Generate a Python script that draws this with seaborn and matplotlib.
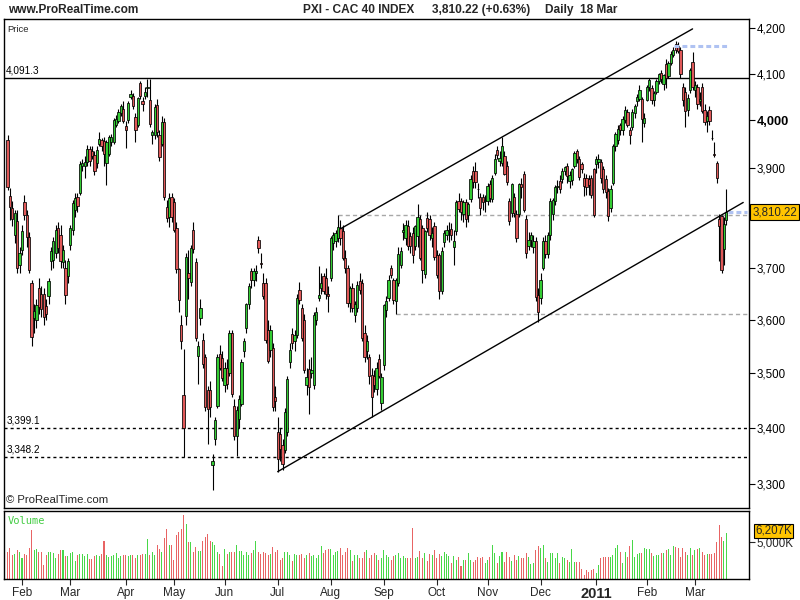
import numpy as np
import pandas as pd
import matplotlib
matplotlib.use("Agg")
import matplotlib.pyplot as plt
import matplotlib.transforms as mtrans
from matplotlib.ticker import FixedLocator, NullLocator
import seaborn as sns

sns.set_theme(style="white")
plt.rcParams['font.family'] = ['Liberation Sans', 'DejaVu Sans']

# ---------------- data ----------------
holidays = ['2010-04-02', '2010-04-05']
first_day, last_day = '2010-01-22', '2011-03-18'

opens = [
 3958, 3843, 3818, 3765, 3792, 3706,
 3735, 3830, 3805, 3760, 3670, 3604, 3600, 3660, 3650, 3650, 3626, 3646, 3713, 3715, 3730, 3778, 3765, 3712, 3700, 3684,
 3745, 3775, 3815, 3842, 3850, 3905, 3905, 3912, 3940, 3935, 3928, 3910, 3950, 3958, 3957, 3910, 3930, 3955, 3955, 3990, 3998, 4015, 4025,
 3988, 4001, 4050, 4052, 4007, 3990, 4079, 4042, 4052, 4068, 4043, 3968, 3970, 4033, 3969, 3950, 3997, 3820, 3800, 3842,
 3830, 3778, 3697, 3590, 3460, 3606, 3690, 3672, 3775, 3712, 3531, 3604, 3562, 3529, 3468, 3469, 3333, 3380, 3440, 3535, 3528,
 3478, 3510, 3500, 3575, 3440, 3385, 3415, 3443, 3541, 3585, 3629, 3693, 3676, 3690, 3754, 3710, 3670, 3670, 3581, 3543, 3547, 3455,
 3392, 3388, 3370, 3360, 3392, 3520, 3572, 3560, 3570, 3657, 3623, 3600, 3478, 3507, 3500, 3478, 3600, 3642, 3660, 3684, 3680, 3650,
 3680, 3748, 3752, 3758, 3778, 3772, 3720, 3700, 3632, 3661, 3608, 3623, 3675, 3670, 3575, 3541, 3529, 3497, 3495, 3470, 3525, 3445,
 3514, 3618, 3642, 3699, 3676, 3636, 3670, 3705, 3770, 3758, 3783, 3762, 3768, 3742, 3762, 3797, 3778, 3688, 3799, 3797, 3758, 3782,
 3725, 3725, 3655, 3750, 3764, 3772, 3776, 3741, 3772, 3833, 3833, 3807, 3830, 3805, 3837, 3894, 3895, 3858, 3841, 3841, 3832,
 3832, 3867, 3837, 3890, 3938, 3915, 3910, 3925, 3904, 3833, 3808, 3841, 3807, 3807, 3868, 3888, 3797, 3742, 3755, 3740, 3752, 3648,
 3642, 3700, 3752, 3728, 3764, 3807, 3833, 3861, 3873, 3877, 3894, 3904, 3873, 3875, 3904, 3935, 3918, 3908, 3880, 3880, 3878, 3880, 3898,
 3908, 3912, 3913, 3898, 3877, 3853, 3818, 3870, 3947, 3958, 3990, 3979, 4001, 4018, 3980, 3985, 4015, 4040, 4045, 4045, 3995,
 4043, 4070, 4068, 4043, 4060, 4083, 4102, 4078, 4120, 4095, 4122, 4140, 4165, 4160, 4151, 4070, 4060, 4022, 4065, 4125,
 4065, 4070, 4042, 4070, 4022, 3998, 4022, 3963, 3930, 3910, 3797, 3803, 3736, 3795,
]
highs = [
 3968, 3860, 3832, 3815, 3815, 3740,
 3785, 3845, 3815, 3770, 3676, 3630, 3640, 3680, 3665, 3660, 3640, 3680, 3740, 3760, 3785, 3790, 3785, 3745, 3715, 3720,
 3785, 3835, 3850, 3850, 3915, 3920, 3925, 3948, 3945, 3945, 3935, 3945, 3975, 3962, 3965, 3958, 3970, 3972, 4005, 4012, 4025, 4035, 4040,
 3998, 4040, 4065, 4058, 4015, 4050, 4085, 4050, 4070, 4088, 4088, 3980, 4035, 4045, 3980, 4010, 4005, 3835, 3850, 3850,
 3840, 3790, 3700, 3608, 3545, 3730, 3735, 3745, 3790, 3720, 3560, 3640, 3575, 3535, 3475, 3485, 3353, 3420, 3535, 3552, 3540,
 3520, 3525, 3580, 3580, 3452, 3440, 3460, 3525, 3565, 3632, 3670, 3700, 3700, 3705, 3762, 3730, 3690, 3680, 3600, 3590, 3555, 3475,
 3420, 3400, 3380, 3435, 3495, 3555, 3585, 3580, 3650, 3672, 3630, 3610, 3510, 3525, 3530, 3615, 3625, 3703, 3690, 3690, 3700, 3665,
 3762, 3770, 3775, 3805, 3795, 3785, 3735, 3705, 3665, 3670, 3635, 3675, 3690, 3678, 3590, 3570, 3535, 3510, 3505, 3520, 3535, 3500,
 3630, 3645, 3685, 3705, 3680, 3680, 3740, 3740, 3788, 3795, 3795, 3770, 3780, 3785, 3827, 3805, 3785, 3775, 3810, 3805, 3780, 3790,
 3735, 3730, 3740, 3775, 3785, 3790, 3788, 3775, 3835, 3850, 3840, 3835, 3838, 3830, 3885, 3905, 3912, 3870, 3850, 3848, 3845,
 3870, 3875, 3885, 3930, 3945, 3935, 3965, 3935, 3915, 3840, 3870, 3850, 3815, 3870, 3880, 3895, 3805, 3770, 3770, 3765, 3760, 3660,
 3690, 3760, 3765, 3770, 3840, 3840, 3865, 3875, 3885, 3900, 3905, 3910, 3895, 3900, 3935, 3940, 3925, 3912, 3890, 3888, 3885, 3885, 3900,
 3925, 3930, 3920, 3905, 3885, 3860, 3865, 3950, 3975, 3990, 3995, 4010, 4030, 4025, 3985, 4025, 4035, 4055, 4075, 4050, 4015,
 4075, 4090, 4075, 4062, 4088, 4102, 4108, 4100, 4132, 4128, 4150, 4158, 4172, 4168, 4158, 4080, 4070, 4055, 4112, 4146,
 4085, 4078, 4060, 4080, 4035, 4020, 4030, 3980, 3955, 3915, 3807, 3805, 3800, 3858,
]
lows = [
 3855, 3795, 3782, 3748, 3690, 3690,
 3725, 3795, 3740, 3690, 3550, 3575, 3585, 3610, 3605, 3590, 3600, 3630, 3695, 3700, 3720, 3730, 3700, 3700, 3630, 3670,
 3735, 3765, 3800, 3810, 3845, 3895, 3880, 3905, 3905, 3920, 3885, 3900, 3945, 3935, 3905, 3865, 3925, 3945, 3950, 3985, 3995, 4010, 3995,
 3942, 3995, 4045, 4025, 3955, 3985, 4045, 4020, 4045, 4050, 3985, 3950, 3960, 3965, 3915, 3945, 3835, 3790, 3780, 3790,
 3770, 3690, 3615, 3545, 3348, 3590, 3640, 3665, 3730, 3560, 3480, 3590, 3510, 3430, 3371, 3420, 3290, 3370, 3435, 3505, 3485,
 3465, 3470, 3495, 3455, 3378, 3350, 3400, 3440, 3530, 3575, 3620, 3660, 3665, 3675, 3730, 3700, 3640, 3555, 3518, 3530, 3430, 3430,
 3322, 3340, 3325, 3355, 3385, 3510, 3545, 3540, 3565, 3630, 3560, 3500, 3460, 3425, 3490, 3470, 3590, 3635, 3650, 3650, 3640, 3615,
 3675, 3735, 3740, 3750, 3745, 3715, 3690, 3625, 3615, 3615, 3595, 3615, 3650, 3560, 3520, 3525, 3480, 3420, 3465, 3460, 3490, 3432,
 3505, 3605, 3635, 3680, 3630, 3610, 3665, 3700, 3755, 3745, 3735, 3730, 3709, 3735, 3740, 3715, 3670, 3680, 3770, 3755, 3740, 3715,
 3680, 3640, 3650, 3740, 3755, 3750, 3755, 3705, 3765, 3810, 3795, 3790, 3780, 3790, 3830, 3860, 3860, 3840, 3805, 3815, 3810,
 3825, 3830, 3830, 3885, 3920, 3905, 3905, 3885, 3865, 3784, 3800, 3800, 3750, 3800, 3840, 3810, 3720, 3735, 3740, 3730, 3635, 3596,
 3630, 3695, 3720, 3720, 3755, 3795, 3825, 3850, 3850, 3870, 3885, 3870, 3860, 3865, 3900, 3910, 3875, 3890, 3843, 3845, 3845, 3840, 3800,
 3890, 3900, 3870, 3850, 3840, 3793, 3810, 3865, 3935, 3950, 3970, 3970, 3995, 3985, 3950, 3980, 4005, 4030, 4040, 3954, 3985,
 4040, 4062, 4035, 4030, 4055, 4078, 4080, 4065, 4068, 4090, 4118, 4135, 4145, 4145, 4090, 4030, 3985, 4010, 4058, 4065,
 4050, 4025, 4030, 4015, 3990, 3975, 3990, 3958, 3924, 3870, 3713, 3690, 3705, 3785,
]
closes = [
 3862, 3821, 3797, 3808, 3700, 3730,
 3772, 3805, 3760, 3696, 3568, 3617, 3628, 3625, 3620, 3605, 3610, 3674, 3733, 3752, 3775, 3738, 3713, 3735, 3648, 3713,
 3778, 3828, 3840, 3822, 3908, 3910, 3912, 3940, 3915, 3925, 3895, 3938, 3960, 3945, 3930, 3955, 3965, 3965, 4000, 4002, 4018, 4030, 3998,
 3980, 4036, 4056, 4030, 3980, 4048, 4052, 4035, 4060, 4070, 3992, 3975, 4028, 3975, 3924, 3997, 3842, 3798, 3840, 3800,
 3775, 3697, 3638, 3560, 3399, 3722, 3680, 3738, 3736, 3566, 3551, 3623, 3516, 3437, 3434, 3437, 3341, 3414, 3529, 3510, 3490,
 3510, 3480, 3575, 3461, 3385, 3432, 3452, 3520, 3560, 3629, 3665, 3676, 3693, 3693, 3738, 3708, 3646, 3561, 3523, 3581, 3437, 3449,
 3345, 3362, 3336, 3428, 3488, 3543, 3556, 3570, 3642, 3638, 3566, 3505, 3492, 3474, 3506, 3608, 3614, 3648, 3670, 3655, 3650, 3646,
 3758, 3764, 3768, 3780, 3758, 3720, 3700, 3632, 3661, 3623, 3629, 3667, 3657, 3566, 3529, 3560, 3494, 3455, 3478, 3510, 3494, 3492,
 3627, 3636, 3676, 3686, 3638, 3676, 3728, 3733, 3774, 3785, 3742, 3742, 3725, 3782, 3800, 3719, 3695, 3772, 3778, 3764, 3768, 3722,
 3686, 3655, 3733, 3768, 3774, 3774, 3765, 3752, 3831, 3817, 3811, 3830, 3797, 3827, 3877, 3871, 3872, 3857, 3819, 3831, 3834,
 3863, 3840, 3880, 3920, 3928, 3922, 3945, 3888, 3871, 3792, 3867, 3808, 3758, 3867, 3862, 3815, 3730, 3755, 3764, 3752, 3644, 3615,
 3676, 3752, 3728, 3764, 3833, 3835, 3862, 3864, 3857, 3894, 3902, 3884, 3887, 3898, 3932, 3918, 3882, 3898, 3863, 3862, 3865, 3845, 3805,
 3918, 3920, 3880, 3858, 3851, 3803, 3857, 3947, 3972, 3982, 3979, 4003, 4022, 3990, 3970, 4018, 4030, 4050, 4065, 4003, 4005,
 4072, 4086, 4043, 4058, 4083, 4098, 4088, 4096, 4090, 4122, 4143, 4151, 4151, 4150, 4098, 4043, 4020, 4048, 4108, 4070,
 4075, 4035, 4045, 4020, 3996, 4009, 3998, 3962, 3928, 3880, 3783, 3696, 3786, 3810.22,
]
volumes_k = [
 3650, 4170, 3200, 3330, 3890, 3700,
 2870, 3330, 3200, 4170, 6600, 3890, 4030, 3650, 3700, 1940, 3200, 3700, 3700, 3560, 2870, 3430, 3890, 3890, 3100, 3100,
 3560, 3700, 2500, 3200, 3330, 3330, 3100, 3330, 2640, 2730, 3100, 3240, 3100, 3400, 5190, 3200, 3000, 3100, 3300, 3500, 2800, 3100, 3300,
 3300, 3100, 3300, 3200, 2900, 3200, 3300, 3400, 3400, 5400, 3300, 3600, 3300, 4600, 4050, 3700, 5600, 6700, 4600, 4600,
 2600, 6000, 6300, 6800, 8600, 7400, 5000, 5000, 3600, 4300, 3800, 3800, 5100, 5700, 6100, 5100, 5000, 4600, 3700, 3400, 1700,
 4100, 3400, 3700, 3600, 3700, 4600, 3800, 3800, 3300, 3600, 3200, 3500, 3900, 5100, 3600, 3400, 3600, 3500, 3300, 3400, 4300, 3700,
 3900, 2600, 2800, 3700, 3600, 3200, 2500, 3400, 3200, 3300, 3400, 2800, 3200, 3500, 3100, 3200, 2900, 3300, 4460, 3500, 3900, 4100,
 4100, 3200, 3600, 3800, 4200, 3300, 3700, 4200, 3900, 2400, 3200, 3300, 2800, 2900, 3600, 3900, 2800, 3300, 3500, 3200, 2600, 2800,
 3900, 3200, 3000, 2600, 3100, 3300, 3500,
 2880, 3110, 2880, 2880, 2790, 6900, 2880, 3020, 3780, 2880, 3510, 2430, 3330, 3240, 3920,
 2790, 3330, 3150, 3600, 3330, 3150, 2120, 3060, 2570, 2970, 1800, 2610, 2610, 3510, 2610,
 2250, 2570, 2970, 2880, 2970, 2210, 2520, 2970, 4600, 3510, 2210, 3150, 3690, 2340, 3600,
 2970, 2430, 3240, 2520, 3060, 2880, 2790, 3510, 3020, 2030, 2120, 3920, 4500, 4140, 4600,
 2790, 2250, 3470, 3470, 2880, 3470, 2120, 2970, 2790, 2570, 2340, 4050, 2340, 2340, 2340,
 1350, 540, 1220, 900, 1220, 1350, 770, 1890, 2880, 2970, 2970, 2970, 2970, 3240, 4140,
 4600, 3690, 2120, 3690, 2970, 4460, 5270, 2970, 3420, 3470, 3510, 4140, 4050, 4050, 3470,
 3150, 3240, 3240, 3470, 3470, 3920, 4050, 3240, 4410, 4320, 4230, 2970, 4140, 3690, 3240,
 4140, 3240, 3920, 4010, 4230, 3690, 3240, 3380, 3380, 3380, 3470, 5050, 7300, 5680, 5140, 6207,
]

level_lines = [4091.3, 3399.1, 3348.2]          # labelled horizontal levels
level_labels = ['4,091.3', '3,399.1', '3,348.2']
grey_levels = [(3805.0, '2010-08-05'), (3610.0, '2010-09-08')]
blue_levels = [(4160.0, '2011-02-17', '2011-03-18'), (3810.22, '2011-03-18', None)]
upper_channel = [('2010-08-06', 3777.0), ('2011-02-28', 4198.0)]
lower_channel = [('2010-07-01', 3322.0), ('2011-03-29', 3830.0)]
price_ticks = [3300, 3400, 3500, 3600, 3700, 3900, 4000, 4100, 4200]
last_price, last_change = 3810.22, 0.63
last_volume_k = 6207

# ---------------- frame ----------------
dates = pd.bdate_range(first_day, last_day)
dates = dates[~dates.isin(pd.to_datetime(holidays))]
n = len(dates)
assert n == len(opens) == len(highs) == len(lows) == len(closes) == len(volumes_k)

df = pd.DataFrame({'date': dates, 'open': opens, 'high': highs, 'low': lows,
                   'close': closes, 'vol': volumes_k})
df['x'] = np.arange(n)
df['up'] = df['close'] >= df['open']
pos = {d: i for i, d in enumerate(df['date'])}

def xpos(d):
    d = pd.Timestamp(d)
    if d in pos:
        return pos[d]
    return pos[df['date'].iloc[-1]] + len(pd.bdate_range(df['date'].iloc[-1], d)) - 1

RED = '#E05858'
GREEN = '#33CC33'
VGREEN = '#48D848'
VRED = '#E86464'

fig = plt.figure(figsize=(8, 6), dpi=100)
fig.patch.set_facecolor('white')
W, H = 800.0, 600.0
ax = fig.add_axes([4 / W, 1 - 508 / H, 745 / W, 489 / H])
axv = fig.add_axes([4 / W, 1 - 579 / H, 745 / W, 68 / H])

xlo, xhi = -1.46, 307.4
pmin, pmax = 3258.8, 4220.0

# ---------------- price panel ----------------
ax.set_yscale('log')
ax.vlines(df['x'], df['low'], df['high'], color='black', lw=0.8, zorder=3)
body_lo = np.minimum(df['open'], df['close'])
body_h = np.maximum(np.abs(df['close'] - df['open']), 0.6)
ax.bar(df['x'], body_h, bottom=body_lo, width=0.95,
       color=np.where(df['up'], GREEN, RED), edgecolor='black', linewidth=0.55, zorder=4)

ax.axhline(level_lines[0], color='black', lw=1.0, zorder=2)
for lv in level_lines[1:]:
    ax.axhline(lv, color='black', lw=1.0, ls=(0, (2.2, 2.2)), zorder=2)
tl = mtrans.blended_transform_factory(ax.transAxes, ax.transData)
for lv, lab in zip(level_lines, level_labels):
    ax.text(0.003, lv * 1.0012, lab, transform=tl, fontsize=7.2, ha='left', va='bottom', color='black')

for lv, d0 in grey_levels:
    ax.hlines(lv, xpos(d0), xhi, color='#a8a8a8', lw=1.0, ls=(0, (3, 2.2)), zorder=2)
for lv, d0, d1 in blue_levels:
    x0 = xpos(d0) + (0.5 if d1 is None else -0.5)
    x1 = xhi - 0.8 if d1 is None else xpos(d1) + 1.0
    ax.hlines(lv, x0, x1, color='#AFC2F2', lw=2.2, ls=(0, (1.6, 1.0)), zorder=5)

chan = pd.DataFrame({
    'x': [xpos(upper_channel[0][0]), xpos(upper_channel[1][0]), xpos(lower_channel[0][0]), xpos(lower_channel[1][0])],
    'p': [upper_channel[0][1], upper_channel[1][1], lower_channel[0][1], lower_channel[1][1]],
    'line': ['upper', 'upper', 'lower', 'lower']})
sns.lineplot(data=chan, x='x', y='p', units='line', estimator=None, color='black', lw=1.0, ax=ax, zorder=5, legend=False)

ax.set_xlim(xlo, xhi)
ax.set_ylim(pmin, pmax)
ax.yaxis.tick_right()
ax.yaxis.set_major_locator(FixedLocator(price_ticks))
ax.yaxis.set_minor_locator(NullLocator())
ax.set_yticklabels([f'{t:,}' for t in price_ticks])
for lab, t in zip(ax.get_yticklabels(), price_ticks):
    lab.set_fontsize(8.3)
    if t == 4000:
        lab.set_fontweight('bold')
        lab.set_fontsize(9.3)
ax.tick_params(axis='y', which='major', direction='out', length=4, width=0.8, pad=1.5, colors='black', right=True, left=False)
ax.tick_params(axis='x', bottom=False, labelbottom=False)
ax.set_xlabel('')
ax.set_ylabel('')
ax.grid(False)
for s in ax.spines.values():
    s.set_color('black')
    s.set_linewidth(1.0)

ax.text(0.004, 0.987, 'Price', transform=ax.transAxes, fontsize=6.8, ha='left', va='top')
ax.text(0.003, 0.006, '\u00a9 ProRealTime.com', transform=ax.transAxes, fontsize=8.2, ha='left', va='bottom')

ax.text(1.0045, last_price, f'{last_price:,.2f}', transform=tl, fontsize=8.3, ha='left', va='center', zorder=10,
        bbox=dict(boxstyle='square,pad=0.18', fc='#FFC400', ec='black', lw=0.8), clip_on=False)

# ---------------- volume panel ----------------
axv.bar(df['x'], df['vol'], width=0.42, color=np.where(df['up'], VGREEN, VRED), linewidth=0)
axv.set_xlim(xlo, xhi)
axv.set_ylim(0, 9200)
axv.yaxis.tick_right()
axv.yaxis.set_major_locator(FixedLocator([5000]))
axv.set_yticklabels(['5,000K'])
axv.tick_params(axis='y', direction='out', length=4, width=0.8, pad=1.5, labelsize=8.3, right=True, left=False)
axv.set_xlabel('')
axv.set_ylabel('')
axv.grid(False)
for s in axv.spines.values():
    s.set_color('black')
    s.set_linewidth(1.0)
tv = mtrans.blended_transform_factory(axv.transAxes, axv.transData)
axv.text(1.0085, 6500, f'{last_volume_k:,}K', transform=tv, fontsize=8.3, ha='left', va='center', zorder=10,
         bbox=dict(boxstyle='square,pad=0.12', fc='#FFC400', ec='black', lw=0.8), clip_on=False)
axv.text(0.005, 0.93, 'Volume', transform=axv.transAxes, fontsize=7.5, color='#44CC44', ha='left', va='top',
         family=['DejaVu Sans Mono'])

# month ticks
mdf = df.groupby([df['date'].dt.year, df['date'].dt.month]).first().reset_index(drop=True)
mdf = mdf[mdf['date'] >= pd.Timestamp('2010-02-01')]
tick_x = mdf['x'].tolist()
tick_lab = [('2011' if (d.month == 1) else d.strftime('%b')) for d in mdf['date']]
axv.set_xticks(tick_x)
axv.set_xticklabels(tick_lab)
axv.tick_params(axis='x', direction='out', length=4, width=0.8, pad=2, labelsize=8.5, bottom=True)
for lab in axv.get_xticklabels():
    if lab.get_text() == '2011':
        lab.set_fontweight('bold')
        lab.set_fontsize(10.5)

# ---------------- header ----------------
hdr = dict(fontsize=8.6, fontweight='bold', ha='left', va='center')
fig.text(8 / W, 1 - 10 / H, 'www.ProRealTime.com', **hdr)
fig.text(303 / W, 1 - 10 / H, 'PXI - CAC 40 INDEX', **hdr)
fig.text(432 / W, 1 - 10 / H, f'{last_price:,.2f} (+{last_change:.2f}%)', **hdr)
fig.text(545 / W, 1 - 10 / H, 'Daily  18 Mar', **hdr)

fig.savefig('out.png', dpi=100, facecolor='white')
